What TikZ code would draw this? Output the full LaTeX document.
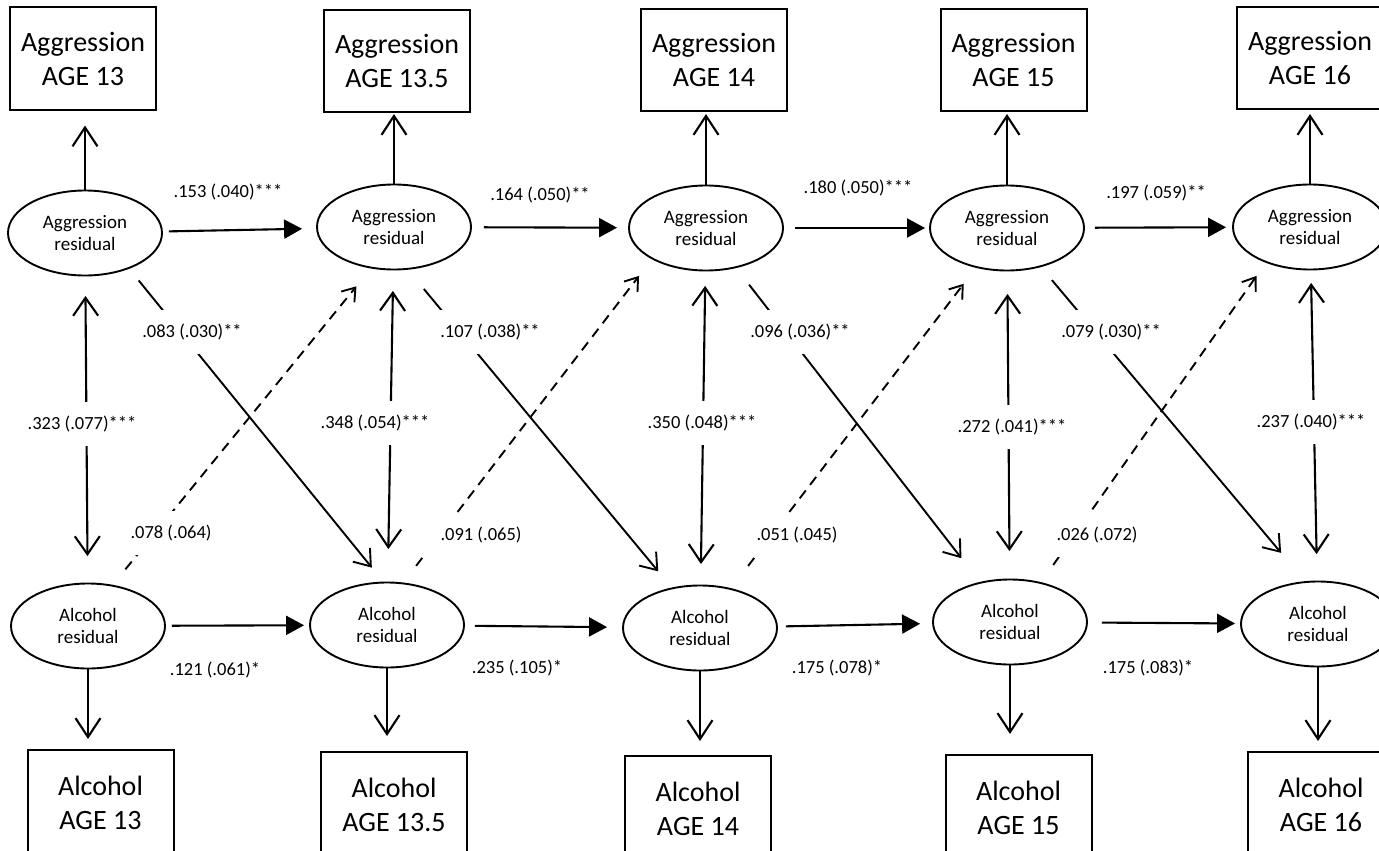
\documentclass[tikz,border=0pt]{standalone}
\usepackage{fontspec}
\setmainfont{Carlito}
\usetikzlibrary{arrows.meta,shapes.geometric}
\def\boxfont{\fontsize{28}{34}\selectfont}
\def\ellfont{\fontsize{19}{22}\selectfont}
\def\coeffont{\fontsize{18.5}{22}\selectfont}
\tikzset{
	meas/.style={draw, rectangle, line width=2pt, minimum width=146pt, minimum height=102pt, inner sep=0pt, align=center, font=\boxfont},
	alcmeas/.style={meas, minimum height=106pt},
	resid/.style={draw, ellipse, line width=1.9pt, minimum width=154pt, minimum height=85pt, inner sep=0pt, align=center, font=\ellfont},
	coef/.style={font=\coeffont, inner sep=1pt},
	coefgap/.style={coef, fill=white, inner xsep=20pt, inner ysep=14pt},
	load/.style={line width=2.1pt, -{Straight Barb[length=19pt,width=25pt]}},
	hz/.style={line width=2.1pt, -{Triangle[length=18pt,width=19pt]}},
	bidir/.style={line width=2.1pt, {Straight Barb[length=18pt,width=25pt]}-{Straight Barb[length=18pt,width=25pt]}},
	cross/.style={line width=1.9pt, -{Straight Barb[length=15pt,width=22pt]}},
	dsh/.style={line width=1.9pt, dash pattern=on 10pt off 7pt, -{Straight Barb[length=12pt,width=17pt]}}
}

\begin{document}
\begin{tikzpicture}[x=1pt, y=-1pt]
	%%%%% START %%%%%
	\useasboundingbox (0, 0) rectangle (1379, 851);
	\fill[white] (0, 0) rectangle (1379, 851);
	
	% observed measures
	\node[meas] (agb1) at (83, 58.5) {Aggression\\AGE 13};
	\node[meas] (agb2) at (397, 61) {Aggression\\AGE 13.5};
	\node[meas] (agb3) at (714, 60) {Aggression\\AGE 14};
	\node[meas] (agb4) at (1013.5, 60) {Aggression\\AGE 15};
	\node[meas] (agb5) at (1310, 58) {Aggression\\AGE 16};
	
	\node[alcmeas] (alb1) at (100.5, 803) {Alcohol\\AGE 13};
	\node[alcmeas] (alb2) at (394, 805) {Alcohol\\AGE 13.5};
	\node[alcmeas] (alb3) at (698, 809) {Alcohol\\AGE 14};
	\node[alcmeas] (alb4) at (1018.5, 808) {Alcohol\\AGE 15};
	\node[alcmeas] (alb5) at (1321, 805) {Alcohol\\AGE 16};
	
	% residuals
	\node[resid] (ag1) at (85, 233) {Aggression\\residual};
	\node[resid] (ag2) at (394, 227) {Aggression\\residual};
	\node[resid] (ag3) at (706, 228) {Aggression\\residual};
	\node[resid] (ag4) at (1007, 228) {Aggression\\residual};
	\node[resid] (ag5) at (1310, 227) {Aggression\\residual};
	
	\node[resid] (al1) at (88, 626) {Alcohol\\residual};
	\node[resid] (al2) at (387, 625) {Alcohol\\residual};
	\node[resid] (al3) at (700, 628) {Alcohol\\residual};
	\node[resid] (al4) at (1010, 622) {Alcohol\\residual};
	\node[resid] (al5) at (1318, 624) {Alcohol\\residual};
	
	% loadings
	\draw[load, shorten >=15pt] (ag1) -- (ag1 |- agb1.south);
	\draw[load, shorten >=1pt] (ag2) -- (ag2 |- agb2.south);
	\draw[load, shorten >=2pt] (ag3) -- (ag3 |- agb3.south);
	\draw[load, shorten >=2pt] (ag4) -- (ag4 |- agb4.south);
	\draw[load, shorten >=4pt] (ag5) -- (ag5 |- agb5.south);
	
	\draw[load, shorten >=10pt] (al1) -- (al1 |- alb1.north);
	\draw[load, shorten >=15pt] (al2) -- (al2 |- alb2.north);
	\draw[load, shorten >=14pt] (al3) -- (al3 |- alb3.north);
	\draw[load, shorten >=20pt] (al4) -- (al4 |- alb4.north);
	\draw[load, shorten >=10pt] (al5) -- (al5 |- alb5.north);
	
	% stability paths
	\draw[hz, shorten <=6pt, shorten >=14pt] (ag1) -- (ag2);
	\draw[hz, shorten <=12pt, shorten >=11pt] (ag2) -- (ag3);
	\draw[hz, shorten <=11pt, shorten >=4pt] (ag3) -- (ag4);
	\draw[hz, shorten <=10pt, shorten >=6pt] (ag4) -- (ag5);
	
	\draw[hz, shorten <=6pt, shorten >=5pt] (al1) -- (al2);
	\draw[hz, shorten <=10pt, shorten >=15pt] (al2) -- (al3);
	\draw[hz, shorten <=8pt, shorten >=12pt] (al3) -- (al4);
	\draw[hz, shorten <=14pt, shorten >=5pt] (al4) -- (al5);
	
	% within-time covariances
	\draw[bidir, shorten <=19.5pt, shorten >=26.5pt] (ag1) -- (al1);
	\draw[bidir, shorten <=20.5pt, shorten >=32.5pt] (ag2) -- (al2);
	\draw[bidir, shorten <=14.5pt, shorten >=20.5pt] (ag3) -- (al3);
	\draw[bidir, shorten <=22.5pt, shorten >=27.5pt] (ag4) -- (al4);
	\draw[bidir, shorten <=12.5pt, shorten >=26.5pt] (ag5) -- (al5);
	
	% cross-lagged paths
	\draw[cross, shorten <=15pt, shorten >=18pt] (ag1.-39) -- (al2.95);
	\draw[cross, shorten <=25pt, shorten >=21pt] (ag2.-72) -- (al3.125);
	\draw[cross, shorten <=21pt, shorten >=30pt] (ag3.-53) -- (al4.127);
	\draw[cross, shorten <=17pt, shorten >=37pt] (ag4.-49) -- (al5.107);
	
	\draw[dsh, shorten <=20pt, shorten >=23pt] (al1.59) -- (ag2.-119);
	\draw[dsh, shorten <=21pt, shorten >=21pt] (al2.69) -- (ag3.-150);
	\draw[dsh, shorten <=28pt, shorten >=20pt] (al3.52) -- (ag4.-128);
	\draw[dsh, shorten <=21pt, shorten >=16pt] (al4.52) -- (ag5.-141);
	
	% coefficients
	\node[coef] (cag12) at (228, 192) {.153 (.040)***};
	\node[coef] (cag23) at (540, 195) {.164 (.050)**};
	\node[coef] (cag34) at (858, 188) {.180 (.050)***};
	\node[coef] (cag45) at (1156, 193) {.197 (.059)**};
	
	\node[coef] (cal12) at (215, 670) {.121 (.061)*};
	\node[coef] (cal23) at (517, 668) {.235 (.105)*};
	\node[coef] (cal34) at (837, 668) {.175 (.078)*};
	\node[coef] (cal45) at (1148, 668) {.175 (.083)*};
	
	\node[coefgap] (cov1) at (82, 424) {.323 (.077)***};
	\node[coefgap] (cov2) at (375, 423) {.348 (.054)***};
	\node[coefgap] (cov3) at (702, 423) {.350 (.048)***};
	\node[coefgap] (cov4) at (1012, 427) {.272 (.041)***};
	\node[coefgap] (cov5) at (1311, 422) {.237 (.040)***};
	
	\node[coefgap] (xag1) at (192, 332) {.083 (.030)**};
	\node[coefgap] (xag2) at (490, 332) {.107 (.038)**};
	\node[coefgap] (xag3) at (800, 332) {.096 (.036)**};
	\node[coefgap] (xag4) at (1111, 332) {.079 (.030)**};
	
	\node[coefgap] (xal1) at (171, 533) {.078 (.064)};
	\node[coefgap] (xal2) at (481, 535) {.091 (.065)};
	\node[coefgap] (xal3) at (797, 535) {.051 (.045)};
	\node[coefgap] (xal4) at (1097, 535) {.026 (.072)};
	%%%%% END %%%%%
\end{tikzpicture}
\end{document}
